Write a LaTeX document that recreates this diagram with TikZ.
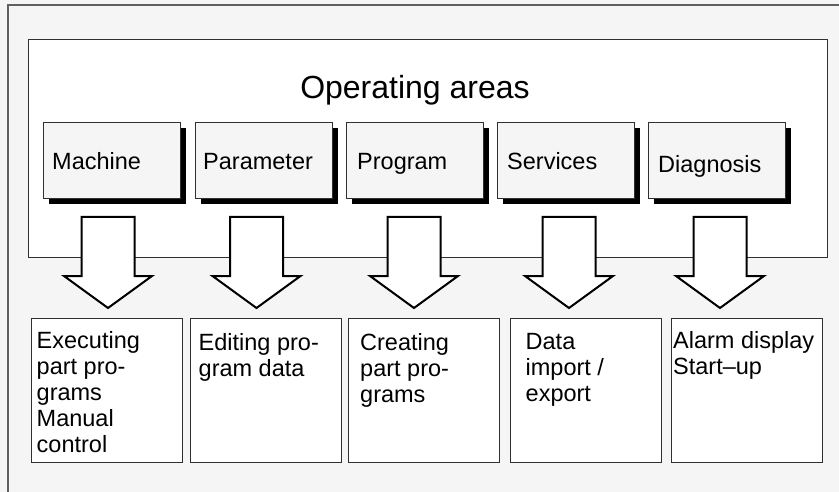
\documentclass[tikz,border=0pt]{standalone}
\usepackage{fontspec}
\setmainfont{Liberation Sans}
\definecolor{bggray}{HTML}{F5F5F5}
\definecolor{framegray}{HTML}{606060}
\definecolor{edgegray}{HTML}{303030}
\begin{document}
\begin{tikzpicture}[x=1pt,y=-1pt,
  bigbox/.style={draw=edgegray, line width=1pt, fill=white},
  areabox/.style={draw=edgegray, line width=0.9pt, fill=bggray, anchor=north west, inner sep=0pt, minimum width=137pt, minimum height=76pt},
  areashadow/.style={fill=black, anchor=north west, inner sep=0pt, minimum width=137pt, minimum height=76pt},
  taskbox/.style={draw=edgegray, line width=1.2pt, fill=white, anchor=north west, inner sep=0pt, minimum width=151pt, minimum height=144pt},
  lbl/.style={font=\fontsize{23.5}{26}\selectfont, inner sep=0pt, anchor=base west},
  tasktxt/.style={font=\fontsize{23.5}{26}\selectfont, inner sep=0pt, anchor=north west, align=left},
  blockarrow/.style={draw=black, line width=2pt, fill=white, line join=miter}
]
\useasboundingbox (0,0) rectangle (839,492);
\fill[bggray] (0,0) rectangle (839,492);
\draw[framegray, line width=1.6pt] (8,492) -- (8,5) -- (839,5);

% inner area box
\node[bigbox, anchor=north west, inner sep=0pt, minimum width=799pt, minimum height=218pt] (areas) at (28,39) {};
\node[font=\fontsize{32}{36}\selectfont, inner sep=0pt, anchor=base] (title) at (415,99) {Operating areas};

% operating area boxes with shadows
\foreach \n/\x in {1/43, 2/195, 3/346, 4/497, 5/648} {
  \node[areashadow] (s\n) at (\x+5.5,127.5) {};
  \node[areabox] (m\n) at (\x,122) {};
}
\node[lbl] (m1t) at (52,170) {Machine};
\node[lbl] (m2t) at (203,170) {Parameter};
\node[lbl] (m3t) at (357,170) {Program};
\node[lbl] (m4t) at (507,170) {Services};
\node[lbl] (m5t) at (658,173) {Diagnosis};

% block arrows
\foreach \n/\cx in {1/108, 2/256.5, 3/414, 4/569, 5/720} {
  \coordinate (a\n) at (\cx,217);
  \draw[blockarrow] (a\n) ++(-26.5,0) -- ++(0,59) -- ++(-17.5,0) -- ++(44,32) -- ++(44,-32) -- ++(-17.5,0) -- ++(0,-59) -- cycle;
}

% task boxes
\node[taskbox] (b1) at (31,318) {};
\node[taskbox] (b2) at (190,318) {};
\node[taskbox] (b3) at (348,318) {};
\node[taskbox] (b4) at (510,318) {};
\node[taskbox] (b5) at (671,318) {};

\node[tasktxt] (t1) at (36.5,331) {Executing\\part pro-\\grams\\Manual\\control};
\node[tasktxt] (t2) at (198.5,333) {Editing pro-\\gram data};
\node[tasktxt] (t3) at (360,333) {Creating\\part pro-\\grams};
\node[tasktxt] (t4) at (525.5,333) {Data\\import /\\export};
\node[tasktxt] (t5) at (673,331.5) {Alarm display\\Start–up};
\end{tikzpicture}
\end{document}
